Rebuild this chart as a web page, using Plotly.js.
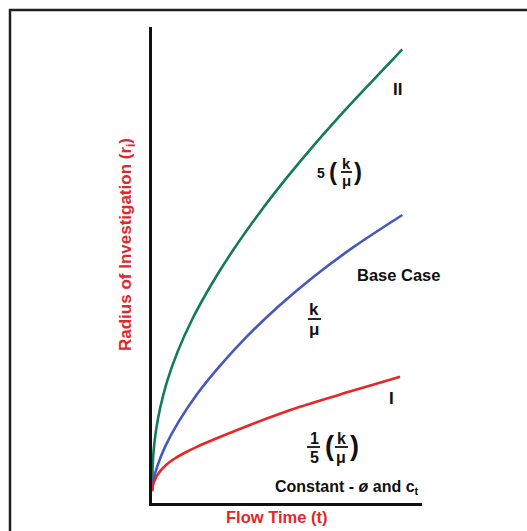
<!DOCTYPE html>
<html>
<head>
<meta charset="utf-8">
<script src="https://cdn.plot.ly/plotly-3.0.1.min.js"></script>
<style>
  html, body { margin: 0; padding: 0; background: #ffffff; }
  #chart { width: 527px; height: 531px; }
</style>
</head>
<body>
<div id="chart"></div>
<script>
// Radius of investigation versus flow time for three mobility levels
// (porosity and total compressibility held constant).

// Case II: 5 (k/mu)
const highT = [0, 0.5, 1.5, 3, 5.5, 9.5, 15, 22, 30, 40, 50, 60, 70, 80, 92.7];
const highR = [2.5, 10.3, 15.3, 19.9, 25.4, 31.8, 38.7, 45.9, 53.1, 61.1, 68.4, 75.2, 81.6, 87.7, 95.3];

// Base case: k/mu
const baseT = [0, 0.5, 2, 5, 10, 17, 25, 35, 47, 60, 75, 92.7];
const baseR = [2.5, 4.7, 7.8, 12.0, 17.2, 23.1, 28.7, 34.9, 41.4, 47.6, 53.9, 60.5];

// Case I: 1/5 (k/mu)
const lowT = [0, 0.5, 1.7, 3.5, 5.4, 8, 11.6, 17, 24, 36.3, 54.8, 73.3, 91.9];
const lowR = [2.5, 4.0, 5.6, 7.0, 8.1, 9.2, 10.4, 11.9, 13.6, 16.4, 20.2, 23.4, 26.5];

const xTitle = 'Flow Time (t)';
const yTitle = 'Radius of Investigation (r<sub>i</sub>)';

const W = 527, H = 531;
const L = 152, T = 27, R = 422, B = 503;   // plot area edges in pixels
const px = x => (x - L) / (R - L);          // pixel -> paper x
const py = y => (B - y) / (B - T);          // pixel -> paper y

const FONT = 'Liberation Sans, Arial, sans-serif';
const INK = '#111111';
const RED = '#e3262b';

function line(t, r, color) {
  return {
    x: t, y: r, type: 'scatter', mode: 'lines',
    line: { color: color, width: 2.6, shape: 'spline', smoothing: 0.9 },
    hoverinfo: 'skip', showlegend: false
  };
}

const traces = [
  line(highT, highR, '#137a5c'),
  line(baseT, baseR, '#4658bd'),
  line(lowT, lowR, '#e62627')
];

function label(text, x, y, size, color, extra) {
  return Object.assign({
    xref: 'paper', yref: 'paper', x: px(x), y: py(y),
    xanchor: 'center', yanchor: 'middle', showarrow: false,
    text: '<b>' + text + '</b>',
    font: { family: FONT, size: size, color: color || INK }
  }, extra || {});
}

function bar(x0, x1, y) {
  return {
    type: 'line', xref: 'paper', yref: 'paper',
    x0: px(x0), x1: px(x1), y0: py(y), y1: py(y),
    line: { color: INK, width: 1.8 }
  };
}

const annotations = [
  label('II', 397, 90, 17),
  // 5 (k / mu)
  label('5', 321, 173, 14),
  label('(', 333, 171, 24),
  label('k', 346, 163, 15),
  label('\u03bc', 346, 181, 15),
  label(')', 358, 171, 24),
  label('Base Case', 398, 275, 16.5),
  // k / mu
  label('k', 314, 309, 17),
  label('\u03bc', 314, 329, 17),
  label('I', 391, 398, 17),
  // 1/5 (k / mu)
  label('1', 314, 438, 16),
  label('5', 314, 457, 16),
  label('(', 329, 446, 27),
  label('k', 341, 438, 16),
  label('\u03bc', 341, 457, 16),
  label(')', 354, 446, 27),
  label('Constant - <i>\u00f8</i> and c<sub>t</sub>', 347, 487, 16),
  label(xTitle, 276, 517, 16.5, RED),
  label(yTitle, 127, 245, 17, RED, { textangle: -90 })
];

const shapes = [
  // outer frame (top and left edges)
  { type: 'line', xref: 'paper', yref: 'paper', x0: px(10), x1: px(10), y0: py(9), y1: py(540),
    line: { color: '#231f20', width: 2.5 } },
  { type: 'line', xref: 'paper', yref: 'paper', x0: px(9), x1: px(540), y0: py(10), y1: py(10),
    line: { color: '#231f20', width: 2.5 } },
  bar(341, 352, 172),
  bar(308, 321, 319),
  bar(307, 320, 447),
  bar(335, 348, 447)
];

const axisBase = {
  showgrid: false, zeroline: false, showticklabels: false, ticks: '',
  showline: true, linecolor: '#111111', linewidth: 3, fixedrange: true
};

const layout = {
  width: W, height: H,
  margin: { l: L, r: W - R, t: T, b: H - B, pad: 0 },
  paper_bgcolor: '#ffffff', plot_bgcolor: '#ffffff',
  xaxis: Object.assign({ range: [0, 100] }, axisBase),
  yaxis: Object.assign({ range: [0, 100] }, axisBase),
  annotations: annotations,
  shapes: shapes,
  showlegend: false
};

Plotly.newPlot('chart', traces, layout, { staticPlot: true, displayModeBar: false });
</script>
</body>
</html>
